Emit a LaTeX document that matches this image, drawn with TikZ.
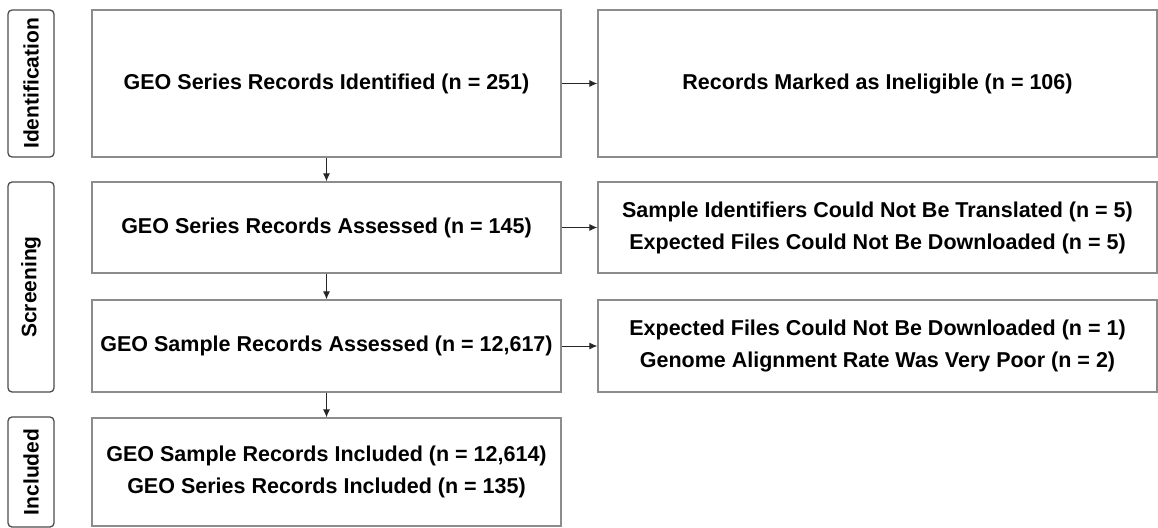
\documentclass[tikz,border=0pt]{standalone}
\usepackage{fontspec}
\setmainfont{Liberation Sans}
\usetikzlibrary{arrows.meta,positioning}

\begin{document}
\begin{tikzpicture}[x=1pt, y=-1pt,
  every node/.style={font=\fontsize{21.5}{32}\selectfont\bfseries},
  box/.style={rectangle, draw=black!45, line width=1.3pt, align=center, inner sep=0pt},
  stage/.style={rectangle, draw=black!70, line width=1.3pt, rounded corners=4pt, rotate=90, inner sep=0pt, font=\fontsize{21}{26}\selectfont\bfseries},
  arr/.style={-{Latex[length=8pt,width=7pt]}, line width=1pt, draw=black!85}]
\useasboundingbox (0,0) rectangle (1158,527);

% stage labels
\node[stage, minimum width=147pt, minimum height=46pt] (ident) at (31,83.5) {Identification};
\node[stage, minimum width=210pt, minimum height=46pt] (screen) at (31,287) {Screening};
\node[stage, minimum width=110pt, minimum height=46pt] (incl) at (31,472) {Included};

% main column
\node[box, minimum width=469pt, minimum height=147pt] (recid) at (326.5,83.5) {GEO Series Records Identified (n = 251)};
\node[box, minimum width=469pt, minimum height=91pt] (recass) at (326.5,227.5) {GEO Series Records Assessed (n = 145)};
\node[box, minimum width=469pt, minimum height=92pt] (sampass) at (326.5,346) {GEO Sample Records Assessed (n = 12,617)};
\node[box, minimum width=469pt, minimum height=108pt] (inclrec) at (326.5,472) {GEO Sample Records Included (n = 12,614)\\GEO Series Records Included (n = 135)};

% exclusions
\node[box, minimum width=559pt, minimum height=147pt] (recinel) at (877.5,83.5) {Records Marked as Ineligible (n = 106)};
\node[box, minimum width=559pt, minimum height=91pt] (excla) at (877.5,227.5) {Sample Identifiers Could Not Be Translated (n = 5)\\Expected Files Could Not Be Downloaded (n = 5)};
\node[box, minimum width=559pt, minimum height=92pt] (exclb) at (877.5,346) {Expected Files Could Not Be Downloaded (n = 1)\\Genome Alignment Rate Was Very Poor (n = 2)};

\draw[arr] (recid) -- (recass);
\draw[arr] (recass) -- (sampass);
\draw[arr] (sampass) -- (inclrec);
\draw[arr] (recid) -- (recinel);
\draw[arr] (recass) -- (excla);
\draw[arr] (sampass) -- (exclb);
\end{tikzpicture}
\end{document}
